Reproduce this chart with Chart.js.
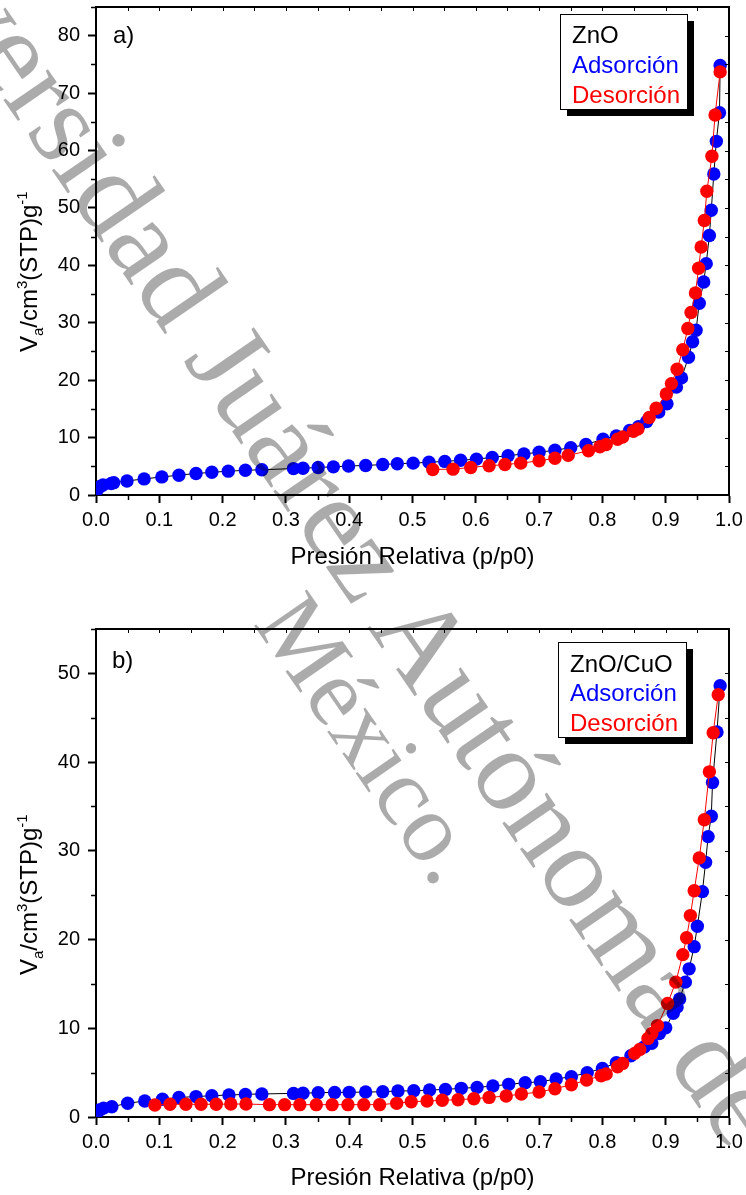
<!DOCTYPE html>
<html>
<head>
<meta charset="utf-8">
<script src="https://cdn.jsdelivr.net/npm/chart.js@4.4.1/dist/chart.umd.min.js"></script>
<style>
  html, body { margin: 0; padding: 0; background: #fff; }
  #page { position: relative; width: 746px; height: 1195px; overflow: hidden; background: #fff; }
  canvas { position: absolute; left: 0; }
  #c1 { top: 0; }
  #c2 { top: 600px; }
  .wm { position: absolute; transform-origin: 0 0; white-space: nowrap; line-height: 1;
        font-family: "Liberation Serif", "Times New Roman", serif; color: rgba(0,0,0,0.33);
        pointer-events: none; }
</style>
</head>
<body>
<div id="page">
  <canvas id="c1" width="746" height="600"></canvas>
  <canvas id="c2" width="746" height="595"></canvas>
  <div class="wm" id="wm1">Universidad Juárez Autónoma de</div>
  <div class="wm" id="wm2">México.</div>
</div>
<script>
// ---- ZnO isotherm (panel a) ----
const ZNO_ADS_P = [0.002,0.006,0.011,0.024,0.028,0.049,0.076,0.104,0.131,0.158,0.183,0.209,0.236,0.262,0.312,0.327,0.351,0.375,0.399,0.426,0.453,0.476,0.501,0.526,0.551,0.576,0.601,0.626,0.651,0.676,0.700,0.725,0.750,0.774,0.801,0.822,0.843,0.857,0.870,0.889,0.902,0.917,0.925,0.936,0.9425,0.948,0.953,0.960,0.964,0.969,0.972,0.976,0.980,0.985,0.986];
const ZNO_ADS_V = [0.9,1.45,1.75,2.0,2.15,2.45,2.8,3.15,3.45,3.75,3.95,4.15,4.3,4.4,4.6,4.65,4.8,4.9,5.05,5.15,5.3,5.45,5.55,5.7,5.85,6.05,6.25,6.55,6.85,7.15,7.45,7.8,8.25,8.8,9.7,10.3,11.25,11.9,12.8,14.45,15.9,18.8,20.4,24.0,26.7,28.7,33.4,37.1,40.3,45.2,49.6,55.9,61.6,66.6,74.8];
const ZNO_DES_P = [0.532,0.564,0.592,0.621,0.646,0.671,0.700,0.725,0.746,0.778,0.796,0.806,0.824,0.832,0.849,0.856,0.874,0.885,0.901,0.909,0.918,0.927,0.935,0.940,0.947,0.952,0.956,0.961,0.965,0.973,0.978,0.986];
const ZNO_DES_V = [4.45,4.5,4.8,5.1,5.3,5.55,5.95,6.4,6.9,7.7,8.4,8.8,9.7,10.1,11.1,11.5,13.5,15.1,17.6,19.4,21.9,25.3,29.0,31.8,35.2,39.5,43.2,47.8,52.9,59.0,66.2,73.7];

// ---- ZnO/CuO isotherm (panel b) ----
const CUO_ADS_P = [0.002,0.006,0.012,0.025,0.050,0.077,0.105,0.131,0.158,0.183,0.210,0.236,0.262,0.312,0.327,0.351,0.377,0.400,0.426,0.453,0.477,0.502,0.527,0.552,0.577,0.602,0.627,0.652,0.678,0.702,0.727,0.751,0.776,0.800,0.822,0.845,0.866,0.878,0.890,0.900,0.912,0.918,0.922,0.931,0.937,0.945,0.950,0.958,0.963,0.967,0.972,0.974,0.981,0.986];
const CUO_ADS_V = [0.6,0.8,1.0,1.15,1.55,1.8,2.0,2.2,2.3,2.4,2.48,2.55,2.6,2.66,2.68,2.74,2.77,2.78,2.81,2.85,2.93,2.96,3.04,3.11,3.23,3.34,3.49,3.68,3.86,3.97,4.28,4.54,4.99,5.48,6.11,6.9,7.9,8.3,9.4,10.05,11.7,12.4,13.3,15.2,16.7,19.2,21.5,25.4,28.7,31.6,33.9,37.7,43.4,48.6];
const CUO_DES_P = [0.093,0.117,0.142,0.166,0.190,0.213,0.237,0.274,0.298,0.322,0.348,0.373,0.398,0.423,0.448,0.475,0.498,0.523,0.547,0.572,0.597,0.621,0.648,0.672,0.700,0.725,0.751,0.775,0.798,0.806,0.824,0.832,0.851,0.859,0.872,0.878,0.887,0.903,0.916,0.927,0.933,0.939,0.945,0.953,0.961,0.969,0.975,0.983];
const CUO_DES_V = [1.35,1.43,1.43,1.43,1.43,1.46,1.46,1.39,1.39,1.39,1.39,1.39,1.39,1.39,1.39,1.54,1.72,1.8,1.88,1.95,2.06,2.21,2.36,2.59,2.81,3.19,3.64,4.16,4.65,4.84,5.66,6.04,7.17,7.62,8.86,9.42,10.3,12.8,15.2,18.3,20.2,22.7,25.5,29.2,33.5,38.9,43.3,47.6];

// ---- text ----
const X_TITLE = 'Presión Relativa (p/p0)';
const LEGEND_A = ['ZnO', 'Adsorción', 'Desorción'];
const LEGEND_B = ['ZnO/CuO', 'Adsorción', 'Desorción'];
const PANEL_TAGS = ['a)', 'b)'];
const Y_AXIS_MAX = [85, 55];

const FONT = '"Liberation Sans", Arial, Helvetica, sans-serif';
const BLUE = '#0000ff', RED = '#ff0000';

function pairs(xs, ys) { return xs.map((x, i) => ({ x: x, y: ys[i] })); }

// Y-axis title V_a/cm^3(STP)g^-1, rotated, with sub/superscripts
function drawYTitle(ctx, bx, by) {
  const parts = [
    { t: 'V', size: 24, dy: 0 },
    { t: 'a', size: 15, dy: 6 },
    { t: '/cm', size: 24, dy: 0 },
    { t: '3', size: 15, dy: -10 },
    { t: '(STP)g', size: 24, dy: 0 },
    { t: '-1', size: 15, dy: -10 }
  ];
  ctx.save();
  ctx.translate(bx, by);
  ctx.rotate(-Math.PI / 2);
  ctx.fillStyle = '#000';
  ctx.textBaseline = 'alphabetic';
  ctx.textAlign = 'left';
  let x = 0;
  for (const p of parts) {
    ctx.font = p.size + 'px ' + FONT;
    ctx.fillText(p.t, x, p.dy);
    x += ctx.measureText(p.t).width;
  }
  ctx.restore();
}

function framePlugin(o) {
  return {
    id: 'frame',
    afterDatasetsDraw(chart) {
      const { ctx, chartArea: a, scales } = chart;
      const xs = scales.x, ys = scales.y;
      ctx.save();
      ctx.strokeStyle = '#000';
      // mirrored top / right axis lines
      ctx.lineWidth = 2;
      ctx.beginPath();
      ctx.moveTo(a.left - 1, a.top);
      ctx.lineTo(a.right, a.top);
      ctx.lineTo(a.right, a.bottom + 1);
      ctx.stroke();
      // x ticks: inward on top, minor outward on bottom
      for (let k = 0; k <= 20; k++) {
        const px = Math.round(xs.getPixelForValue(k * 0.05)) + 0.5;
        ctx.lineWidth = 1;
        ctx.beginPath(); ctx.moveTo(px, a.top); ctx.lineTo(px, a.top + 4); ctx.stroke();
        if (k % 2 === 1) {
          ctx.lineWidth = 1.5;
          ctx.beginPath(); ctx.moveTo(px, a.bottom); ctx.lineTo(px, a.bottom + 5); ctx.stroke();
        }
      }
      // y ticks: inward on right, minor outward on left
      for (let v = 0; v <= ys.max; v += 5) {
        const py = Math.round(ys.getPixelForValue(v)) + 0.5;
        ctx.lineWidth = 1;
        ctx.beginPath(); ctx.moveTo(a.right, py); ctx.lineTo(a.right - 4, py); ctx.stroke();
        if (v % 10 === 5) {
          ctx.lineWidth = 1.5;
          ctx.beginPath(); ctx.moveTo(a.left, py); ctx.lineTo(a.left - 5, py); ctx.stroke();
        }
      }
      ctx.restore();
    },
    afterDraw(chart) {
      const ctx = chart.ctx;
      ctx.save();
      // legend box with drop shadow
      const b = o.box;
      ctx.fillStyle = '#000';
      ctx.fillRect(b.x + 7, b.y + 7, b.w, b.h);
      ctx.fillStyle = '#fff';
      ctx.fillRect(b.x, b.y, b.w, b.h);
      ctx.strokeStyle = '#000';
      ctx.lineWidth = 1;
      ctx.strokeRect(b.x + 0.5, b.y + 0.5, b.w, b.h);
      ctx.font = '24px ' + FONT;
      ctx.textAlign = 'left';
      ctx.textBaseline = 'alphabetic';
      const cols = ['#000', BLUE, RED];
      o.legend.forEach((t, i) => {
        ctx.fillStyle = cols[i];
        ctx.fillText(t, b.tx, b.ty + i * 29.7);
      });
      // panel tag
      ctx.fillStyle = '#000';
      ctx.font = '24px ' + FONT;
      ctx.fillText(o.tag, o.tagX, o.tagY);
      ctx.restore();
      drawYTitle(ctx, 37, o.yTitleStart);
    }
  };
}

function buildChart(id, o) {
  return new Chart(document.getElementById(id), {
    type: 'scatter',
    data: {
      datasets: [
        { label: 'Desorción', data: pairs(o.desP, o.desV), showLine: true, order: 0,
          borderColor: RED, borderWidth: 1, pointBackgroundColor: RED, pointBorderColor: RED,
          pointBorderWidth: 0, pointRadius: 6.7, pointHoverRadius: 6.7 },
        { label: 'Adsorción', data: pairs(o.adsP, o.adsV), showLine: true, order: 1,
          borderColor: '#000', borderWidth: 1, pointBackgroundColor: BLUE, pointBorderColor: BLUE,
          pointBorderWidth: 0, pointRadius: 6.7, pointHoverRadius: 6.7 }
      ]
    },
    options: {
      responsive: false,
      animation: false,
      devicePixelRatio: 1,
      events: [],
      layout: { padding: { left: 0, top: o.padTop, right: 17, bottom: 0 } },
      plugins: { legend: { display: false }, tooltip: { enabled: false }, title: { display: false } },
      scales: {
        x: {
          type: 'linear', min: 0, max: 1,
          afterFit(s) { s.height = o.xHeight; s.paddingLeft = 0; s.paddingRight = 0; },
          ticks: { stepSize: 0.1, autoSkip: false, maxRotation: 0, padding: 5, color: '#000',
                   font: { family: FONT, size: 20 }, callback: v => v.toFixed(1) },
          grid: { drawOnChartArea: false, drawTicks: true, tickLength: 8, tickWidth: 2, tickColor: '#000' },
          border: { display: true, color: '#000', width: 2 },
          title: { display: true, text: X_TITLE, color: '#000', font: { family: FONT, size: 24 },
                   padding: { top: 0, bottom: o.xTitlePad } }
        },
        y: {
          type: 'linear', min: 0, max: o.yMax,
          afterFit(s) { s.width = 96; s.paddingTop = 0; s.paddingBottom = 0; },
          ticks: { stepSize: 10, includeBounds: false, padding: 8, color: '#000',
                   font: { family: FONT, size: 20 }, callback: v => String(v) },
          grid: { drawOnChartArea: false, drawTicks: true, tickLength: 8, tickWidth: 2, tickColor: '#000' },
          border: { display: true, color: '#000', width: 2 }
        }
      }
    },
    plugins: [framePlugin(o)]
  });
}

buildChart('c1', {
  adsP: ZNO_ADS_P, adsV: ZNO_ADS_V, desP: ZNO_DES_P, desV: ZNO_DES_V,
  yMax: Y_AXIS_MAX[0], padTop: 7, xHeight: 105, xTitlePad: 28.6,
  legend: LEGEND_A, tag: PANEL_TAGS[0], tagX: 113, tagY: 43,
  box: { x: 560, y: 14, w: 127, h: 95, tx: 572, ty: 43.3 },
  yTitleStart: 352
});

buildChart('c2', {
  adsP: CUO_ADS_P, adsV: CUO_ADS_V, desP: CUO_DES_P, desV: CUO_DES_V,
  yMax: Y_AXIS_MAX[1], padTop: 29, xHeight: 78, xTitlePad: 2.6,
  legend: LEGEND_B, tag: PANEL_TAGS[1], tagX: 112, tagY: 68.3,
  box: { x: 558, y: 42, w: 128, h: 95, tx: 570, ty: 71.7 },
  yTitleStart: 375
});

// diagonal watermark, positioned by its baseline origin
function placeMark(el, ox, oy, size, deg) {
  const r = deg * Math.PI / 180, s = Math.sin(r), c = Math.cos(r);
  const asc = 0.8375 * size;
  el.style.fontSize = size + 'px';
  el.style.left = (ox + asc * s) + 'px';
  el.style.top = (oy - asc * c) + 'px';
  el.style.transform = 'rotate(' + deg + 'deg)';
}
placeMark(document.getElementById('wm1'), -162.6, -138.8, 118, 55.4);
placeMark(document.getElementById('wm2'), 252, 624, 98, 55.4);
</script>
</body>
</html>
